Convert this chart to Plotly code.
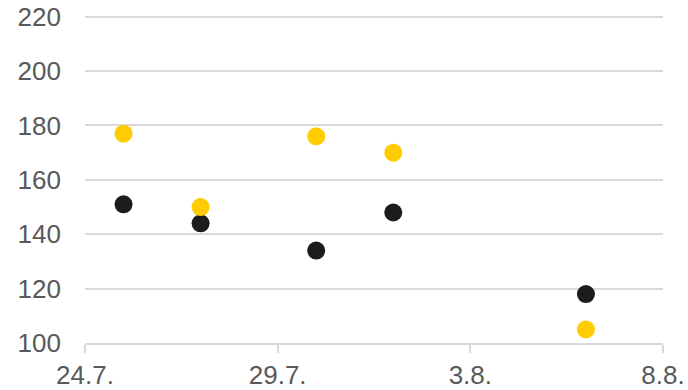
import plotly.graph_objects as go

dates = ["2023-07-25", "2023-07-27", "2023-07-30", "2023-08-01", "2023-08-06"]
series_black = [151, 144, 134, 148, 118]
series_yellow = [177, 150, 176, 170, 105]
x_tick_vals = ["2023-07-24", "2023-07-29", "2023-08-03", "2023-08-08"]
x_tick_text = ["24.7.", "29.7.", "3.8.", "8.8."]
y_ticks = [100, 120, 140, 160, 180, 200, 220]

fig = go.Figure()
fig.add_trace(go.Scatter(x=dates, y=series_black, mode="markers", name="A",
                         marker=dict(color="#1c1c1c", size=18)))
fig.add_trace(go.Scatter(x=dates, y=series_yellow, mode="markers", name="B",
                         marker=dict(color="#ffcc00", size=18)))

font = dict(family="Liberation Sans, Arial, sans-serif", size=26, color="#595959")
fig.update_layout(
    width=688, height=390,
    margin=dict(l=85, r=25, t=14, b=47),
    paper_bgcolor="white", plot_bgcolor="white",
    showlegend=False,
    font=font,
)
fig.update_xaxes(
    type="date", automargin=False,
    range=["2023-07-24", "2023-08-08"],
    tickvals=x_tick_vals, ticktext=x_tick_text,
    showgrid=False, zeroline=False,
    showline=True, linecolor="#d9d9d9", linewidth=2,
    ticks="outside", ticklen=8, tickwidth=2, tickcolor="#d9d9d9",
    ticklabelstandoff=0,
    tickfont=font,
)
fig.update_yaxes(
    automargin=False,
    range=[100, 221], tickvals=y_ticks,
    showgrid=True, gridcolor="#d9d9d9", gridwidth=2,
    zeroline=False, showline=False, ticks="",
    ticklabelstandoff=23,
    tickfont=font,
)
fig.write_html("out.html")
